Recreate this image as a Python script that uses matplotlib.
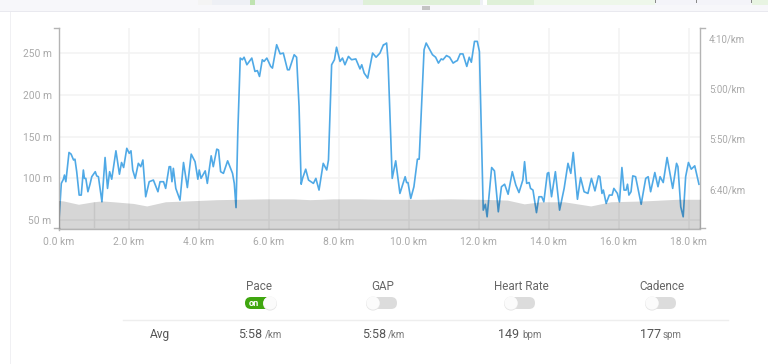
"""Run profile chart: pace line over elevation, with the toggle row underneath."""

import matplotlib

matplotlib.use("Agg")  # no display here
import matplotlib.pyplot as plt
from matplotlib.patches import Circle, FancyBboxPatch, Rectangle

plt.rcParams["font.family"] = ["Roboto", "DejaVu Sans"]

W, H = 768, 364

# pace trace
PACE_KM = [
    0.00, 0.05, 0.08, 0.14, 0.17, 0.21, 0.30, 0.36, 0.43, 0.47, 0.52, 0.59, 0.65, 0.71, 0.74, 0.78,
    0.84, 0.90, 0.95, 1.05, 1.09, 1.14, 1.24, 1.33, 1.40, 1.46, 1.52, 1.64, 1.74, 1.80, 1.86, 1.95,
    2.02, 2.07, 2.12, 2.19, 2.28, 2.35, 2.41, 2.49, 2.59, 2.71, 2.84, 2.90, 3.00, 3.06, 3.16, 3.20,
    3.24, 3.28, 3.35, 3.47, 3.57, 3.68, 3.79, 3.90, 3.98, 4.02, 4.07, 4.19, 4.25, 4.36, 4.42, 4.52,
    4.57, 4.63, 4.71, 4.83, 4.97, 5.02, 5.07, 5.12, 5.19, 5.25, 5.30, 5.38, 5.52, 5.61, 5.68, 5.74,
    5.82, 5.87, 5.95, 6.06, 6.11, 6.23, 6.33, 6.42, 6.54, 6.59, 6.73, 6.80, 6.87, 6.93, 6.97, 7.06,
    7.14, 7.28, 7.35, 7.44, 7.56, 7.66, 7.71, 7.80, 7.88, 7.94, 8.04, 8.11, 8.18, 8.28, 8.37, 8.49,
    8.61, 8.66, 8.73, 8.83, 8.97, 9.07, 9.18, 9.28, 9.30, 9.37, 9.41, 9.53, 9.63, 9.75, 9.90, 9.94,
    9.98, 10.06, 10.15, 10.25, 10.30, 10.44, 10.50, 10.68, 10.77, 10.85, 10.93, 10.98, 11.08, 11.17,
    11.27, 11.34, 11.39, 11.47, 11.55, 11.66, 11.73, 11.79, 11.88, 11.96, 12.02, 12.13, 12.19, 12.24,
    12.37, 12.45, 12.56, 12.65, 12.74, 12.84, 12.96, 13.06, 13.15, 13.26, 13.31, 13.37, 13.44, 13.48,
    13.55, 13.65, 13.72, 13.80, 13.86, 13.96, 14.00, 14.08, 14.19, 14.31, 14.44, 14.55, 14.63, 14.70,
    14.82, 14.91, 15.01, 15.12, 15.22, 15.32, 15.42, 15.46, 15.52, 15.56, 15.64, 15.73, 15.81, 15.86,
    15.96, 16.02, 16.09, 16.15, 16.21, 16.25, 16.29, 16.35, 16.40, 16.48, 16.64, 16.77, 16.84, 16.91,
    17.03, 17.12, 17.18, 17.27, 17.38, 17.54, 17.65, 17.69, 17.77, 17.84, 17.91, 17.99, 18.07, 18.17,
    18.29,
]
PACE_M = [
    40, 74, 94, 99, 104, 96, 131, 129, 122, 123, 108, 80, 80, 110, 100, 100,
    84, 93, 102, 108, 103, 102, 72, 125, 88, 108, 99, 133, 105, 119, 113, 136,
    130, 133, 110, 100, 118, 114, 122, 78, 96, 98, 84, 96, 96, 88, 114, 114,
    96, 112, 88, 74, 119, 89, 129, 120, 99, 110, 100, 109, 94, 127, 114, 135,
    134, 108, 106, 121, 106, 94, 65, 154, 244, 242, 245, 236, 244, 228, 229, 222,
    242, 240, 244, 234, 232, 260, 249, 250, 230, 230, 248, 245, 186, 93, 100, 111,
    98, 94, 100, 86, 118, 110, 122, 236, 242, 257, 240, 244, 236, 246, 242, 243,
    231, 236, 226, 220, 250, 245, 250, 260, 260, 262, 242, 100, 121, 82, 102, 95,
    95, 76, 90, 123, 123, 254, 262, 248, 245, 238, 243, 242, 247, 245,
    238, 240, 241, 249, 249, 234, 245, 239, 264, 264, 252, 62, 69, 54,
    113, 109, 60, 90, 93, 81, 108, 92, 83, 98, 120, 94, 95, 88,
    86, 59, 78, 78, 72, 106, 107, 78, 108, 62, 88, 118, 106, 131,
    75, 101, 84, 82, 100, 85, 103, 102, 82, 86, 70, 80, 80, 88,
    82, 72, 113, 86, 86, 93, 80, 84, 103, 102, 69, 100, 102, 84,
    107, 90, 102, 95, 125, 88, 118, 114, 66, 54, 102, 119, 111, 115,
    93,
]

ELEV_KM = [
    0.00, 0.14, 0.57, 1.00, 1.24, 1.57, 2.14, 2.52, 3.05, 3.66, 4.52, 5.19, 5.95, 6.71, 7.18, 7.85,
    8.61, 9.30, 10.25, 11.20, 12.06, 12.82, 13.30, 13.77, 14.44, 15.20, 15.77, 16.72, 17.67, 18.32,
]
ELEV_M = [
    73.5, 73, 69, 72, 73, 72, 70, 67, 72, 73, 74.5, 75, 75.5, 75.5, 74.5, 75.5,
    75.5, 75, 75, 75.5, 75, 74, 69.5, 72, 72, 67, 72, 73, 75, 75,
]

X_TICKS = [0, 2, 4, 6, 8, 10, 12, 14, 16, 18]
Y_TICKS = [50, 100, 150, 200, 250]
PACE_TICKS = [250, 300, 350, 400]  # seconds per km
PACE_LABELS = ["4:10/km", "5:00/km", "5:50/km", "6:40/km"]

COLUMNS = ["Pace", "GAP", "Heart Rate", "Cadence"]
AVG_VALUES = ["5:58", "5:58", "149", "177"]
AVG_UNITS = ["/km", "/km", "bpm", "spm"]
COLUMN_X = [259, 383, 521, 662]
TOGGLE_X = [260, 382, 520, 661]
VALUE_RIGHT = [262, 386, 519, 661]
UNIT_LEFT = [265, 388, 522, 663]

BLUE = "#4fa9e6"
AXIS = "#b4b4b4"
GRID = "#f3f3f3"
LABEL = "#a9a9a9"
DARK = "#555555"
MAP_GREEN = "#dff0d8"


def draw_chart(fig):
    left, right = 58.5, 700
    top, bottom = 28, 228.5
    ax = fig.add_axes([left / W, 1 - bottom / H, (right - left) / W, (bottom - top) / H])
    ax.set_xlim(0, 18.32)
    ax.set_ylim(40, 280)
    ax.set_xticks(X_TICKS)
    ax.set_xticklabels([f"{v:.1f} km" for v in X_TICKS])
    ax.set_yticks(Y_TICKS)
    ax.set_yticklabels([f"{v} m" for v in Y_TICKS])
    ax.grid(True, color=GRID, lw=1.1)
    ax.set_axisbelow(True)
    ax.tick_params(axis="both", length=0, labelsize=7.4, labelcolor=LABEL)
    ax.tick_params(axis="x", pad=6)
    ax.tick_params(axis="y", pad=5)
    ax.spines["top"].set_visible(False)
    for side in ("left", "right", "bottom"):
        ax.spines[side].set_color(AXIS)
        ax.spines[side].set_linewidth(1)

    ax.plot(PACE_KM, PACE_M, color=BLUE, lw=1.2, zorder=2, solid_joinstyle="round")
    # the elevation sits on top, so the line and the grid show through darker
    ax.fill_between(ELEV_KM, ELEV_M, 40, color="black", alpha=0.16, lw=0, zorder=3)
    ax.vlines(1.0, 40, 72, color="#c6c6c6", lw=1, zorder=4)

    # small end ticks on both vertical axes
    ax.plot([-0.14, 0], [280, 280], color=AXIS, lw=1, clip_on=False)
    ax.plot([-0.14, 0], [40, 40], color=AXIS, lw=1, clip_on=False)
    ax.plot([0, 0], [40, 38], color=AXIS, lw=1, clip_on=False)
    ax.plot([18.32, 18.46], [280, 280], color=AXIS, lw=1, clip_on=False)
    ax.plot([18.32, 18.46], [40, 40], color=AXIS, lw=1, clip_on=False)

    pace = ax.twinx()
    pace.set_ylim(439.2, 240)
    pace.set_yticks(PACE_TICKS)
    pace.set_yticklabels(PACE_LABELS)
    pace.tick_params(axis="y", length=0, labelsize=7, labelcolor=LABEL, pad=6.5)
    for spine in pace.spines.values():
        spine.set_visible(False)


def toggle(ui, cx, cy, on):
    w, h = 30, 12
    face = "#3fa60f" if on else "#dcdcdc"
    ui.add_patch(FancyBboxPatch((cx - w / 2, cy - h / 2), w, h,
                                boxstyle="round,pad=0,rounding_size=6", fc=face, ec="none", zorder=2))
    knob_x = cx + 10 if on else cx - 9
    ui.add_patch(Circle((knob_x, cy + 0.6), 7, fc="#e6e6e6", ec="none", zorder=3))
    ui.add_patch(Circle((knob_x, cy), 6.6, fc="#fbfbfb", ec="none", zorder=4))
    if on:
        ui.text(cx - 6.5, cy, "on", color="white", fontsize=6.6, fontweight="bold",
                ha="center", va="center", zorder=5)


def draw_ui(fig):
    ui = fig.add_axes([0, 0, 1, 1], zorder=-1)
    ui.set_xlim(0, W)
    ui.set_ylim(H, 0)
    ui.axis("off")

    # page chrome and the bottom of the map above the chart
    ui.add_patch(Rectangle((0, 0), W, 12, fc="#f7f7fa", ec="none"))
    ui.add_patch(Rectangle((198, 0), 285, 5, fc="#eef0f5", ec="none"))
    ui.add_patch(Rectangle((198, 0), 14, 5, fc="#f4f4f4", ec="none"))
    for x0, x1, col in [(250, 255, "#bfe3b0"), (363, 480, MAP_GREEN), (487, 534, MAP_GREEN),
                        (534, 655, "#eef7ea"), (655, 752, "#f4f4f9"), (752, 768, "#e8f4e2")]:
        ui.add_patch(Rectangle((x0, 0), x1 - x0, 5, fc=col, ec="none"))
    ui.add_patch(Rectangle((483, 0), 4, 5, fc="white", ec="none"))
    for x in [655, 696, 751]:
        ui.add_patch(Rectangle((x - 0.5, 0), 1.4, 2.5, fc="#8a8a8a", ec="none"))
    ui.add_patch(Rectangle((0, 11), W, 1.2, fc="#e9e9ef", ec="none"))
    ui.add_patch(Rectangle((10, 12), 1.2, H - 12, fc="#f0f0f3", ec="none"))
    ui.add_patch(Rectangle((422, 6), 8, 4, fc="#c4c4c4", ec="none"))

    for i, name in enumerate(COLUMNS):
        ui.text(COLUMN_X[i], 287, name, color="#666666", fontsize=8.4, ha="center", va="center")
        toggle(ui, TOGGLE_X[i], 303, i == 0)

    ui.plot([123, 728], [319.5, 319.5], color="#eeeeee", lw=1)
    ui.text(160, 334.5, "Avg", color=DARK, fontsize=8.6, ha="center", va="center")
    for i, value in enumerate(AVG_VALUES):
        ui.text(VALUE_RIGHT[i], 334, value, color=DARK, fontsize=9, ha="right", va="center")
        ui.text(UNIT_LEFT[i], 335, AVG_UNITS[i], color="#777777", fontsize=7, ha="left", va="center")


def main():
    fig = plt.figure(figsize=(W / 100, H / 100), dpi=100, facecolor="white")
    draw_ui(fig)
    draw_chart(fig)
    fig.savefig("out.png", dpi=100)
    plt.close(fig)


if __name__ == "__main__":
    main()
